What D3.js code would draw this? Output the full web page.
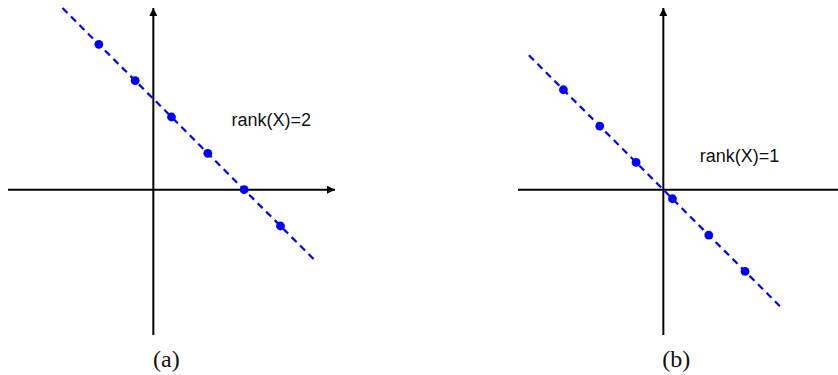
<!DOCTYPE html>
<html>
<head>
<meta charset="utf-8">
<script src="https://cdn.jsdelivr.net/npm/d3@7"></script>
<style>
  body { margin: 0; background: #fff; }
  svg { display: block; }
</style>
</head>
<body>
<svg id="chart" width="838" height="375"></svg>
<script>
"use strict";

// shared axis extent (data units) for both panels
var axisDomain = [-4, 5];

// panel (a): rank(X)=2, points on a line that misses the origin
var pointsAX = [-1.5, -0.5, 0.5, 1.5, 2.5, 3.5],
    pointsAY = [4, 3, 2, 1, 0, -1],
    lineAX = [-2.5, 4.5],
    lineAY = [5, -2];

// panel (b): rank(X)=1, points on a line through the origin
var pointsBX = [-2.75, -1.75, -0.75, 0.25, 1.25, 2.25],
    pointsBY = [2.75, 1.75, 0.75, -0.25, -1.25, -2.25],
    lineBX = [-3.7, 3.25],
    lineBY = [3.7, -3.25];

var panels = [
  { xs: pointsAX, ys: pointsAY, lx: lineAX, ly: lineAY, xEnd: 5, label: "rank(X)=2", labelAt: [2.15, 1.75], caption: "(a)", left: 8 },
  { xs: pointsBX, ys: pointsBY, lx: lineBX, ly: lineBY, xEnd: 5.6, label: "rank(X)=1", labelAt: [1.0, 0.77], caption: "(b)", left: 518 }
];

var svg = d3.select("#chart");

var defs = svg.append("defs");
defs.append("marker")
  .attr("id", "arrow")
  .attr("viewBox", "0 0 8 8")
  .attr("refX", 8)
  .attr("refY", 4)
  .attr("markerWidth", 8)
  .attr("markerHeight", 8)
  .attr("markerUnits", "userSpaceOnUse")
  .attr("orient", "auto")
  .append("path")
  .attr("d", "M0,0 L8,4 L0,8 Z")
  .attr("fill", "#000");

function drawPanel(p) {
  let x = d3.scaleLinear().domain(axisDomain).range([p.left, p.left + 327]),
      y = d3.scaleLinear().domain(axisDomain).range([335, 8]);

  let g = svg.append("g");

  // x axis
  g.append("line")
    .attr("x1", x(axisDomain[0])).attr("x2", x(p.xEnd))
    .attr("y1", y(0)).attr("y2", y(0))
    .attr("stroke", "#000").attr("stroke-width", 2)
    .attr("marker-end", "url(#arrow)");

  // y axis
  g.append("line")
    .attr("x1", x(0)).attr("x2", x(0))
    .attr("y1", y(axisDomain[0])).attr("y2", y(axisDomain[1]))
    .attr("stroke", "#000").attr("stroke-width", 2)
    .attr("marker-end", "url(#arrow)");

  // dashed fit line
  let line = d3.line()
    .x(function(d) { return x(d[0]); })
    .y(function(d) { return y(d[1]); });

  g.append("path")
    .datum(d3.zip(p.lx, p.ly))
    .attr("d", line)
    .attr("fill", "none")
    .attr("stroke", "#0000ff")
    .attr("stroke-width", 2.2)
    .attr("stroke-dasharray", "7,5");

  g.selectAll("circle").data(d3.zip(p.xs, p.ys))
    .enter()
    .append("circle")
    .attr("cx", function(d) { return x(d[0]); })
    .attr("cy", function(d) { return y(d[1]); })
    .attr("r", 4.4)
    .attr("fill", "#0000ff");

  g.append("text")
    .attr("x", x(p.labelAt[0]))
    .attr("y", y(p.labelAt[1]))
    .attr("font-family", "'Liberation Sans', Arial, sans-serif")
    .attr("font-size", 18)
    .attr("fill", "#111")
    .text(p.label);

  g.append("text")
    .attr("x", x(0) + 13)
    .attr("y", 367)
    .attr("text-anchor", "middle")
    .attr("font-family", "'Liberation Serif', 'Times New Roman', serif")
    .attr("font-size", 24)
    .attr("fill", "#111")
    .text(p.caption);
}

panels.forEach(drawPanel);
</script>
</body>
</html>
